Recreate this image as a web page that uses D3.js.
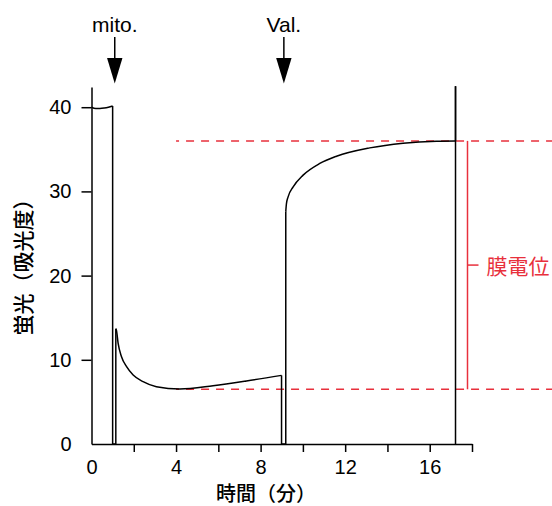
<!DOCTYPE html>
<html>
<head>
<meta charset="utf-8">
<script src="https://cdn.jsdelivr.net/npm/d3@7"></script>
<style>
  body { margin: 0; background: #fff; }
  svg { display: block; }
  .tick text { font-family: "Liberation Sans", Arial, sans-serif; font-size: 20px; fill: #000; }
</style>
</head>
<body>
<div id="chart"></div>
<script>
// trace (time in min, signal in absorbance units)
var timeMin = [0, 0.2, 0.4, 0.6, 0.8, 1.0, 1.0, 1.15, 1.15, 1.18, 1.26, 1.42, 1.66, 1.97, 2.44, 3.07, 4.18, 5.75, 7.33, 8.99,
               8.99, 9.19, 9.19, 9.22, 9.30, 9.54, 10.01, 10.80, 11.59, 13.16, 14.74, 16.32, 17.22, 17.22, 17.22]
var signal  = [40.0, 39.85, 39.85, 39.9, 40.0, 40.15, 0, 0, 13.7, 13.5, 11.95, 10.36, 9.18, 8.19, 7.40, 6.80, 6.53, 6.92, 7.48, 8.15,
               0, 0, 27.6, 28.5, 29.35, 30.54, 31.93, 33.32, 34.18, 35.17, 35.73, 35.97, 36.0, 42.5, 0]

var yTicks = [0, 10, 20, 30, 40]
var xTicks = [0, 2, 4, 6, 8, 10, 12, 14, 16, 18]
var xLabels = [0, 4, 8, 12, 16]

var arrowTimes = [1.1, 9.1]
var arrowLabels = ["mito.", "Val."]

// resting / depolarised levels
var levels = [6.5, 36.0]
var levelStart = 4.0
var bracketLabel = "膜電位"

var width = 552, height = 506
var red = "#e8303c"

var svg = d3.select("#chart").append("svg")
    .attr("width", width)
    .attr("height", height)

var x = d3.scaleLinear().domain([0, 18]).range([91.5, 472])
var y = d3.scaleLinear().domain([0, 42.4]).range([444, 87])

// axes
svg.append("g")
    .attr("transform", "translate(" + x(0) + ",0)")
    .call(d3.axisLeft(y).tickValues(yTicks).tickSize(10).tickPadding(10).tickSizeOuter(0))
svg.append("g")
    .attr("transform", "translate(0," + y(0) + ")")
    .call(d3.axisBottom(x).tickValues(xTicks).tickSize(8).tickPadding(8).tickSizeOuter(0)
      .tickFormat(function(d) { return xLabels.indexOf(d) >= 0 ? d : "" }))

svg.selectAll(".domain").attr("stroke", "#000").attr("stroke-width", 1.5)
svg.selectAll(".tick line").attr("stroke", "#000").attr("stroke-width", 1.5)
  .filter(function(d) { return d === 0 }).remove()

// axis titles
svg.append("text")
    .attr("x", 266).attr("y", 492)
    .attr("text-anchor", "middle")
    .attr("dominant-baseline", "central")
    .style("font-family", "'Noto Sans CJK JP', sans-serif")
    .style("font-size", "20px")
    .style("font-weight", 500)
    .text("時間（分）")

svg.append("text")
    .attr("transform", "translate(22,262) rotate(-90)")
    .attr("text-anchor", "middle")
    .attr("dominant-baseline", "central")
    .style("font-family", "'Noto Sans CJK JP', sans-serif")
    .style("font-size", "21px")
    .style("font-weight", 500)
    .text("蛍光（吸光度）")

// dashed reference levels
svg.selectAll(".level")
  .data(levels)
  .enter()
  .append("line")
    .attr("x1", x(levelStart)).attr("x2", width)
    .attr("y1", function(d) { return y(d) }).attr("y2", function(d) { return y(d) })
    .attr("stroke", red)
    .attr("stroke-width", 1.5)
    .attr("stroke-dasharray", "8,7")
    .attr("stroke-dashoffset", 5)

// bracket for membrane potential
var bx = 467.5
svg.append("line")
    .attr("x1", bx).attr("x2", bx)
    .attr("y1", y(levels[1])).attr("y2", y(levels[0]))
    .attr("stroke", red).attr("stroke-width", 1.5)
var midY = (y(levels[0]) + y(levels[1])) / 2
svg.append("line")
    .attr("x1", bx).attr("x2", bx + 11)
    .attr("y1", midY).attr("y2", midY)
    .attr("stroke", red).attr("stroke-width", 1.5)
svg.append("text")
    .attr("x", bx + 19).attr("y", midY)
    .attr("dominant-baseline", "central")
    .style("font-family", "'Noto Sans CJK JP', sans-serif")
    .style("font-size", "21px")
    .attr("fill", red)
    .text(bracketLabel)

// trace: smooth runs split where the time repeats (vertical jumps)
var pts = timeMin.map(function(t, i) { return [t, signal[i]] })
var runs = [[pts[0]]]
for (var i = 1; i < pts.length; i++) {
  if (pts[i][0] === pts[i - 1][0]) runs.push([pts[i]])
  else runs[runs.length - 1].push(pts[i])
}
var smooth = d3.line().x(function(d) { return x(d[0]) }).y(function(d) { return y(d[1]) }).curve(d3.curveMonotoneX)
var straight = d3.line().x(function(d) { return x(d[0]) }).y(function(d) { return y(d[1]) })

svg.selectAll(".run")
  .data(runs.filter(function(r) { return r.length > 1 }))
  .enter()
  .append("path")
    .attr("d", smooth)
    .attr("fill", "none")
    .attr("stroke", "#000")
    .attr("stroke-width", 1.5)

var jumps = []
for (var j = 1; j < runs.length; j++) {
  jumps.push([runs[j - 1][runs[j - 1].length - 1], runs[j][0]])
}
svg.selectAll(".jump")
  .data(jumps)
  .enter()
  .append("path")
    .attr("d", straight)
    .attr("fill", "none")
    .attr("stroke", "#000")
    .attr("stroke-width", 1.5)

// addition arrows
var arrows = svg.selectAll(".arrow")
  .data(arrowTimes)
  .enter()
  .append("g")
    .attr("transform", function(d) { return "translate(" + x(d) + ",0)" })
arrows.append("line")
    .attr("x1", 0).attr("x2", 0).attr("y1", 37).attr("y2", 60)
    .attr("stroke", "#000").attr("stroke-width", 1.5)
arrows.append("path")
    .attr("d", "M-7.7,58L7.7,58L0,83.5Z")
    .attr("fill", "#000")
arrows.append("text")
    .attr("y", 31.5)
    .attr("text-anchor", "middle")
    .style("font-family", "'Liberation Sans', Arial, sans-serif")
    .style("font-size", "21px")
    .text(function(d, i) { return arrowLabels[i] })
</script>
</body>
</html>
